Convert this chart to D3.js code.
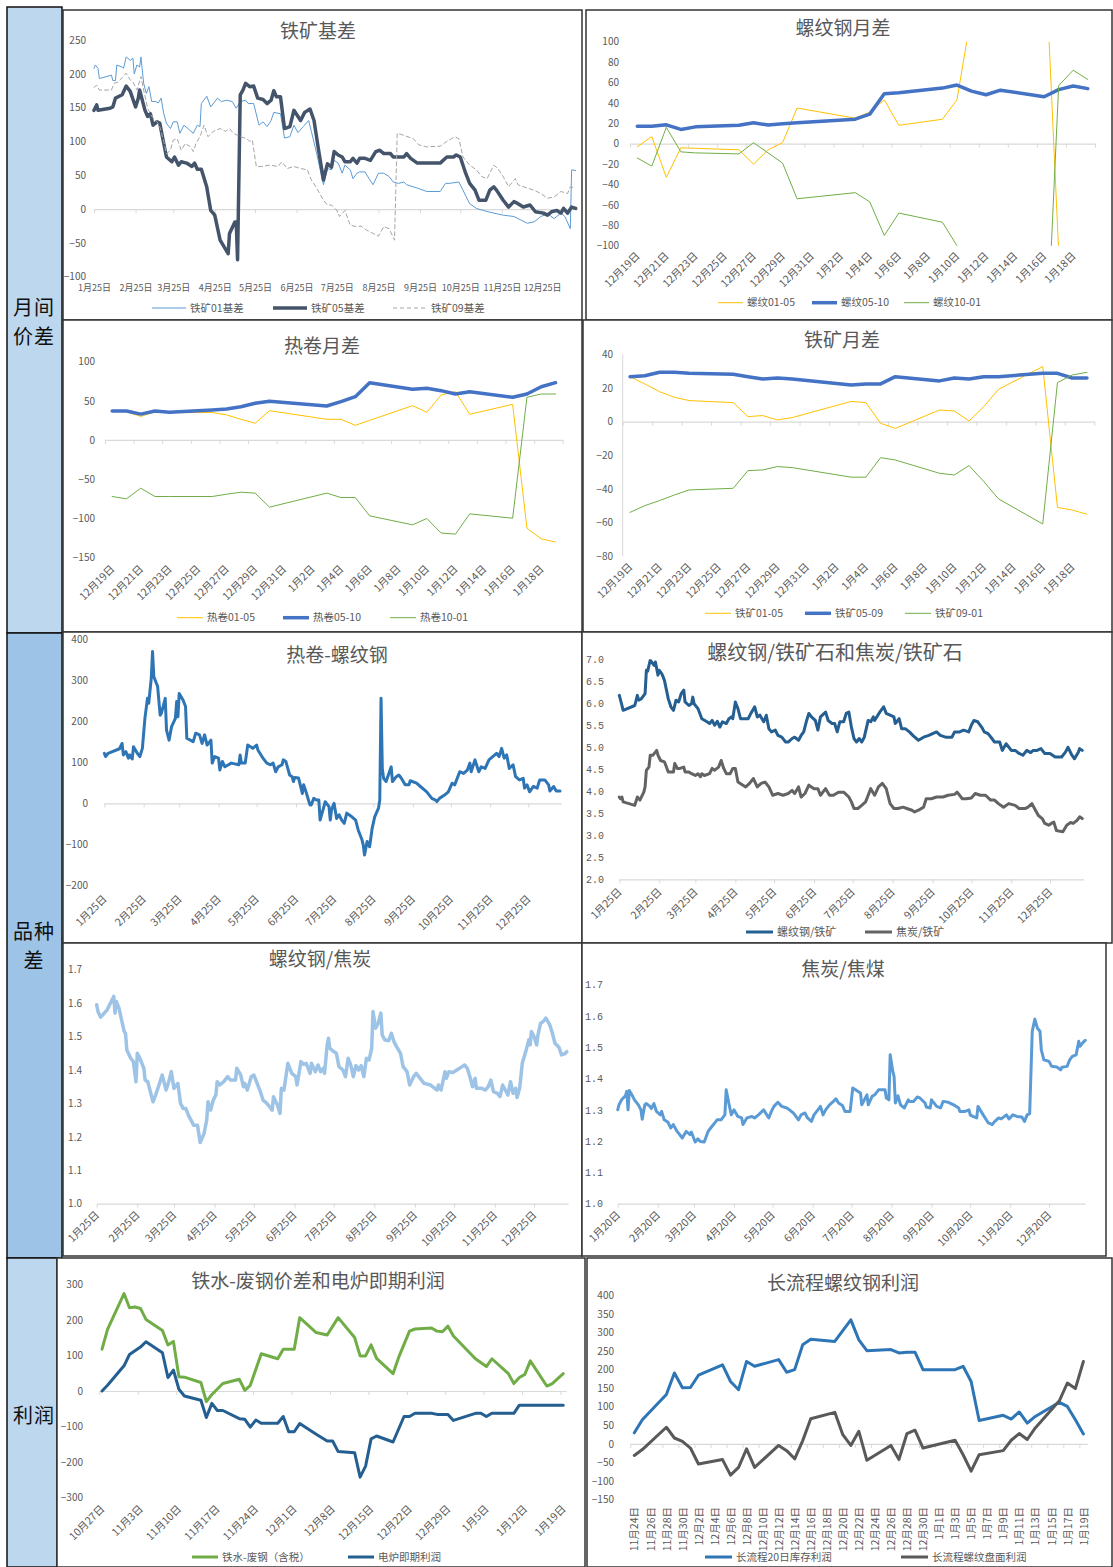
<!DOCTYPE html>
<html>
<head>
<meta charset="utf-8">
<script src="https://cdn.jsdelivr.net/npm/d3@7"></script>
<style>
  body { margin: 0; background: #fff; }
  svg text { font-family: 'Noto Sans CJK SC', 'Noto Sans', sans-serif; }
</style>
</head>
<body>
<div id="chart"></div>
<script>
// ---------- data ----------
// iron ore basis, [days since 2022-01-25, value]
const basisStart = '2022-01-25';
const ore01Basis = [[0,208],[1,213],[3,208],[4,193],[13,198],[14,190],[16,190],[17,213],[21,210],[22,208],[24,225],[27,220],[29,223],[30,200],[32,213],[34,210],[35,225],[37,186],[39,171],[41,181],[43,159],[46,159],[48,157],[50,164],[52,141],[54,127],[57,119],[59,129],[62,129],[64,112],[67,124],[70,119],[74,112],[77,124],[79,122],[80,156],[84,167],[87,151],[92,164],[95,159],[99,161],[103,159],[106,149],[109,159],[113,161],[115,156],[119,156],[123,124],[126,129],[129,122],[132,131],[134,143],[139,141],[142,105],[146,107],[149,124],[152,113],[156,122],[160,131],[162,115],[166,82],[171,36],[174,60],[177,58],[179,72],[182,68],[185,53],[187,65],[191,58],[193,45],[196,53],[198,55],[202,55],[205,45],[208,36],[212,53],[216,53],[220,48],[223,40],[227,38],[231,40],[233,36],[241,31],[248,26],[258,26],[262,38],[265,38],[272,40],[275,28],[280,8],[285,1],[290,-2],[298,-6],[305,-9],[313,-11],[318,-16],[323,-21],[328,-19],[333,-11],[338,-7],[343,-14],[348,-6],[351,-11],[355,-29],[356,58],[359,57]];
const ore05Basis = [[0,146],[2,154],[3,146],[12,149],[14,151],[16,164],[21,169],[24,182],[27,174],[31,151],[33,164],[34,176],[38,146],[40,137],[42,141],[44,124],[47,129],[49,127],[52,97],[54,77],[58,70],[60,77],[63,65],[65,70],[69,68],[73,63],[75,68],[77,59],[80,59],[84,33],[87,-2],[90,-9],[94,-46],[100,-66],[101,-36],[105,-19],[106,-19],[107,-75],[109,169],[111,176],[113,186],[116,181],[119,182],[122,164],[126,162],[129,156],[132,161],[134,175],[136,166],[139,166],[142,119],[146,122],[149,146],[154,131],[157,143],[161,148],[164,131],[167,92],[171,43],[174,67],[177,62],[179,85],[182,80],[185,77],[187,70],[191,70],[193,75],[196,68],[198,75],[202,75],[206,72],[210,85],[213,87],[216,82],[221,82],[223,77],[231,77],[233,82],[236,75],[241,68],[248,68],[258,68],[263,77],[268,77],[270,80],[273,77],[277,53],[280,38],[284,28],[287,13],[292,13],[295,28],[298,33],[300,28],[305,13],[309,3],[313,11],[316,8],[320,3],[325,6],[329,-4],[335,-6],[338,-9],[341,-4],[345,-2],[348,-6],[350,1],[353,-6],[356,3],[359,1]];
const ore09Basis = [[0,180],[2,183],[4,176],[13,176],[15,186],[18,188],[24,201],[27,191],[29,188],[32,176],[35,196],[37,176],[40,149],[43,137],[47,129],[49,122],[52,100],[54,82],[57,87],[59,102],[62,104],[65,87],[68,97],[72,92],[74,85],[76,97],[79,107],[82,124],[85,107],[89,115],[94,119],[98,115],[101,119],[104,112],[109,107],[114,104],[116,100],[118,102],[121,63],[125,63],[131,65],[137,63],[140,70],[144,60],[149,63],[154,60],[159,58],[162,43],[166,31],[171,13],[174,6],[177,6],[181,-2],[183,-11],[187,-2],[191,-24],[196,-26],[199,-25],[203,-31],[208,-36],[212,-40],[216,-26],[220,-29],[224,-46],[226,112],[231,109],[238,104],[242,95],[248,92],[258,93],[263,100],[269,107],[272,104],[275,77],[280,65],[285,58],[289,48],[293,45],[298,65],[301,60],[305,48],[309,33],[314,45],[316,36],[323,31],[328,28],[333,23],[338,16],[343,18],[348,26],[353,23],[355,33],[359,31]];

// calendar spreads, one value per trading day
const spreadDates = ['2022-12-19','2022-12-20','2022-12-21','2022-12-22','2022-12-23','2022-12-26','2022-12-27','2022-12-28','2022-12-29','2022-12-30','2023-01-03','2023-01-04','2023-01-05','2023-01-06','2023-01-09','2023-01-10','2023-01-11','2023-01-12','2023-01-13','2023-01-16','2023-01-17','2023-01-18','2023-01-19'];
const rebar0105 = [-3,7,-33,-4,-4.5,-6,-20,-6,1,35,25,31,43,18,24,43,128,152,177,208,-106,-128,-117];
const rebar0510 = [17,17,18.5,14,16.5,18,20.5,18.3,19.5,20.5,24,29,49,50,54.5,57.5,51.5,48,52.5,46,53,56.5,54];
const rebar1001 = [-14,-22,16,-8,-9,-10,1,-9,-19,-54,-48,-57,-90,-68,-77,-100,-180,-200,-230,-254,57,72,63];
const hrc0105 = [37.4,36,30,36,35,35,32,26.4,21.3,37.4,26.4,26.4,18.7,25,43.8,35.3,57.4,61.7,32.8,45.5,-112.8,-126.4,-130.6];
const hrc0510 = [37,37,33,37,35.3,38.3,39.6,42.5,46.8,49.4,43.4,49,55.3,73.2,64.7,66,63,58.7,61.7,54.5,58.7,68,73.2];
const hrc1001 = [-72.3,-75.3,-61.7,-72.3,-72.3,-72.3,-69.4,-66.8,-68,-85.9,-68,-73.6,-73.6,-97,-108.5,-100.4,-119,-120.4,-94.5,-100,54.5,58.7,58.7];
const ore0105 = [26.7,22.4,17.8,14.5,12.5,11.3,3,3.6,1,2.4,12,11.3,-1,-4,6.9,6.3,0.4,8.9,19.2,32.7,-51,-52.5,-55];
const ore0509 = [26.7,27.3,29.3,29.3,28.7,28.1,26.7,25.3,25.9,25.3,21.8,22.4,22.4,26.7,24.2,25.9,25.3,26.7,26.7,28.7,28.7,25.9,25.9];
const ore0901 = [-53.9,-49.9,-46.9,-43.6,-40.6,-39.6,-29.1,-28.7,-26.7,-27.3,-33,-33,-21.4,-22.8,-30.7,-31.7,-26.1,-35.6,-45.9,-60.8,23.2,27.7,29.3];

// HRC minus rebar, [days since 2022-01-25, value]
const hrcRebar = [[0,122],[1,114],[3,122],[12,133],[14,146],[15,118],[17,126],[19,110],[20,118],[22,108],[23,138],[26,122],[28,114],[30,134],[32,207],[34,256],[35,244],[37,305],[38,370],[39,309],[42,285],[44,215],[45,220],[48,256],[49,179],[51,154],[53,187],[56,207],[57,248],[58,211],[59,268],[62,252],[64,236],[65,159],[70,150],[72,171],[75,167],[77,146],[79,167],[81,142],[84,154],[85,98],[87,114],[90,110],[91,81],[93,102],[95,89],[100,98],[106,94],[107,118],[108,98],[111,98],[113,142],[117,134],[120,142],[121,130],[125,110],[128,98],[131,94],[133,98],[135,77],[137,89],[140,94],[141,106],[143,102],[146,69],[148,65],[149,53],[150,63],[153,62],[156,24],[157,45],[159,27],[162,-4],[163,-4],[165,12],[167,8],[169,8],[170,-41],[173,-8],[174,4],[177,-8],[178,-41],[179,-16],[181,0],[183,-37],[185,-28],[187,-41],[189,-49],[191,-24],[195,-33],[198,-41],[200,-65],[203,-89],[204,-102],[205,-126],[207,-93],[209,-106],[211,-61],[213,-33],[216,-12],[217,8],[218,256],[219,85],[220,61],[222,53],[226,89],[227,53],[230,65],[232,69],[234,61],[237,45],[240,45],[241,55],[246,49],[249,41],[254,28],[258,12],[261,8],[262,4],[264,12],[268,20],[271,28],[274,49],[276,45],[280,77],[283,73],[286,81],[288,98],[289,77],[292,106],[295,77],[297,89],[300,85],[303,106],[306,114],[309,122],[311,114],[313,134],[315,110],[317,118],[319,85],[322,94],[324,65],[327,57],[330,61],[331,37],[333,45],[335,28],[338,41],[341,37],[343,57],[347,57],[350,45],[351,30],[354,41],[356,30],[359,30]];

// ratios, [days since 2022-01-25, value]
const rebarOreRatio = [[0,6.18],[1,6.07],[3,5.84],[12,5.95],[14,6.18],[15,6.07],[17,6.1],[20,6.22],[21,6.75],[22,6.73],[23,6.86],[24,6.98],[26,6.9],[27,6.86],[28,6.94],[30,6.64],[31,6.75],[33,6.67],[35,6.52],[38,6.1],[40,5.92],[42,5.84],[44,6.07],[46,6.03],[48,6.22],[50,6.3],[51,6.03],[54,5.95],[56,5.99],[57,6.14],[58,5.99],[61,5.88],[64,5.65],[68,5.58],[70,5.54],[72,5.61],[74,5.5],[76,5.59],[78,5.46],[80,5.58],[83,5.54],[85,5.65],[87,5.69],[88,5.65],[90,6.03],[92,5.88],[94,5.65],[100,5.65],[102,5.77],[105,5.92],[107,5.69],[109,5.73],[112,5.58],[114,5.73],[116,5.42],[118,5.35],[121,5.39],[123,5.27],[126,5.23],[129,5.12],[131,5.12],[134,5.2],[136,5.23],[139,5.16],[141,5.27],[143,5.35],[145,5.58],[147,5.77],[149,5.69],[152,5.61],[154,5.39],[156,5.69],[160,5.8],[162,5.61],[165,5.54],[167,5.54],[169,5.35],[171,5.58],[174,5.58],[176,5.77],[178,5.8],[180,5.46],[182,5.2],[184,5.12],[186,5.2],[188,5.12],[190,5.23],[193,5.61],[195,5.58],[197,5.69],[198,5.61],[202,5.8],[205,5.92],[207,5.77],[210,5.73],[213,5.69],[214,5.54],[217,5.65],[219,5.42],[222,5.42],[225,5.35],[228,5.26],[232,5.16],[236,5.23],[240,5.27],[243,5.31],[246,5.35],[249,5.27],[253,5.23],[258,5.23],[260,5.35],[264,5.35],[267,5.39],[271,5.35],[273,5.5],[275,5.61],[278,5.58],[281,5.46],[283,5.35],[286,5.31],[289,5.2],[291,5.12],[295,5.12],[297,4.93],[300,5.08],[304,4.93],[307,4.93],[310,4.86],[313,4.82],[316,4.93],[319,4.88],[321,4.93],[324,4.93],[327,4.97],[330,4.86],[334,4.86],[338,4.78],[343,4.78],[346,4.89],[348,5.0],[351,4.82],[353,4.74],[356,4.89],[357,4.97],[359,4.93]];
const cokeOreRatio = [[0,3.87],[1,3.83],[2,3.87],[3,3.76],[12,3.68],[14,3.87],[16,3.8],[19,3.98],[20,4.1],[21,4.48],[23,4.55],[24,4.82],[26,4.82],[28,4.89],[29,4.93],[30,4.82],[32,4.7],[35,4.67],[38,4.44],[42,4.44],[43,4.63],[45,4.52],[47,4.52],[50,4.55],[51,4.44],[54,4.44],[56,4.4],[59,4.36],[61,4.4],[63,4.33],[64,4.4],[66,4.36],[70,4.4],[72,4.52],[74,4.48],[77,4.55],[79,4.7],[81,4.52],[83,4.4],[86,4.4],[88,4.52],[90,4.52],[92,4.21],[98,4.1],[101,4.18],[104,4.29],[107,4.1],[110,4.18],[113,4.21],[116,4.1],[119,3.91],[123,3.95],[127,3.91],[131,3.95],[134,4.02],[136,3.95],[139,4.1],[141,3.87],[144,3.95],[147,4.14],[151,4.06],[154,4.06],[156,3.91],[160,4.06],[163,3.91],[166,3.91],[170,3.98],[174,3.98],[178,3.87],[180,3.76],[182,3.61],[185,3.61],[188,3.68],[191,3.76],[193,3.91],[195,4.06],[198,3.91],[201,4.1],[204,4.18],[207,4.06],[210,3.72],[213,3.61],[216,3.61],[220,3.64],[223,3.61],[227,3.57],[229,3.53],[232,3.57],[236,3.64],[238,3.83],[242,3.83],[246,3.87],[251,3.87],[255,3.91],[260,3.93],[262,3.98],[266,3.83],[269,3.83],[273,3.85],[276,3.95],[280,3.91],[284,3.91],[288,3.8],[291,3.8],[294,3.72],[298,3.64],[302,3.72],[307,3.68],[310,3.61],[315,3.61],[317,3.64],[320,3.72],[322,3.61],[325,3.45],[328,3.38],[330,3.27],[333,3.23],[335,3.27],[337,3.3],[339,3.11],[342,3.09],[344,3.08],[347,3.23],[350,3.29],[352,3.27],[355,3.34],[357,3.42],[359,3.38]];
const rebarCokeRatio = [[0,1.595],[1,1.575],[3,1.558],[8,1.58],[13,1.62],[14,1.57],[15,1.605],[17,1.585],[19,1.55],[21,1.515],[22,1.51],[23,1.46],[26,1.435],[28,1.425],[29,1.395],[30,1.365],[31,1.45],[33,1.435],[36,1.405],[37,1.37],[39,1.365],[41,1.335],[43,1.305],[45,1.325],[48,1.36],[50,1.385],[51,1.37],[53,1.34],[55,1.365],[57,1.395],[59,1.345],[61,1.355],[62,1.36],[64,1.3],[66,1.285],[68,1.285],[70,1.265],[74,1.235],[77,1.235],[79,1.183],[82,1.21],[84,1.25],[85,1.305],[87,1.28],[89,1.31],[91,1.325],[92,1.365],[94,1.355],[97,1.365],[100,1.38],[102,1.37],[106,1.37],[107,1.405],[110,1.385],[112,1.35],[113,1.36],[115,1.34],[118,1.38],[120,1.385],[122,1.365],[125,1.335],[127,1.31],[130,1.3],[132,1.29],[134,1.28],[135,1.32],[138,1.295],[140,1.27],[141,1.345],[143,1.34],[146,1.42],[149,1.39],[152,1.38],[153,1.355],[156,1.425],[158,1.417],[160,1.42],[163,1.39],[164,1.42],[167,1.395],[169,1.415],[171,1.395],[173,1.405],[174,1.39],[176,1.475],[177,1.495],[178,1.465],[181,1.455],[183,1.45],[185,1.41],[188,1.4],[190,1.38],[192,1.435],[194,1.415],[196,1.38],[198,1.413],[200,1.4],[202,1.413],[204,1.38],[206,1.435],[208,1.43],[210,1.465],[211,1.575],[213,1.525],[215,1.54],[217,1.57],[218,1.505],[220,1.49],[223,1.488],[225,1.51],[227,1.485],[229,1.47],[232,1.45],[234,1.41],[237,1.395],[239,1.355],[242,1.38],[244,1.39],[247,1.375],[250,1.36],[255,1.355],[260,1.34],[261,1.355],[263,1.34],[266,1.395],[267,1.375],[269,1.395],[272,1.392],[275,1.4],[279,1.41],[281,1.415],[283,1.405],[285,1.38],[287,1.35],[289,1.375],[290,1.345],[294,1.345],[297,1.34],[299,1.35],[301,1.37],[303,1.335],[306,1.33],[308,1.32],[310,1.355],[312,1.34],[314,1.325],[316,1.365],[318,1.33],[320,1.345],[321,1.318],[323,1.345],[325,1.42],[328,1.46],[330,1.49],[331,1.475],[332,1.515],[334,1.5],[336,1.475],[337,1.505],[339,1.54],[341,1.545],[343,1.555],[346,1.535],[348,1.51],[350,1.48],[353,1.468],[355,1.445],[358,1.45],[359,1.455]];
// coke / coking coal, [days since 2022-01-20, value]
const cokeStart = '2022-01-20';
const cokeCoalRatio = [[0,1.3],[1,1.316],[3,1.332],[6,1.345],[7,1.359],[8,1.3],[9,1.362],[11,1.348],[13,1.332],[16,1.316],[18,1.3],[19,1.27],[21,1.316],[22,1.32],[25,1.311],[26,1.304],[28,1.32],[30,1.295],[33,1.284],[34,1.295],[36,1.268],[39,1.26],[41,1.242],[43,1.253],[46,1.231],[50,1.21],[53,1.231],[56,1.221],[57,1.229],[60,1.197],[62,1.207],[64,1.199],[67,1.197],[70,1.231],[72,1.242],[77,1.268],[80,1.268],[83,1.284],[84,1.364],[86,1.322],[88,1.284],[90,1.3],[93,1.279],[96,1.274],[97,1.253],[100,1.274],[104,1.279],[106,1.274],[109,1.284],[113,1.3],[117,1.274],[119,1.295],[121,1.311],[124,1.324],[127,1.311],[131,1.306],[133,1.3],[136,1.29],[138,1.279],[140,1.268],[142,1.284],[145,1.29],[147,1.274],[150,1.263],[152,1.284],[155,1.3],[157,1.311],[159,1.284],[161,1.3],[164,1.316],[167,1.327],[169,1.335],[171,1.322],[174,1.314],[176,1.295],[180,1.295],[182,1.37],[185,1.362],[188,1.354],[189,1.316],[191,1.332],[193,1.348],[194,1.316],[197,1.343],[199,1.348],[202,1.364],[207,1.364],[208,1.338],[210,1.332],[211,1.476],[213,1.423],[214,1.407],[215,1.322],[217,1.345],[219,1.316],[222,1.306],[225,1.332],[226,1.327],[229,1.327],[232,1.341],[234,1.338],[238,1.322],[239,1.309],[242,1.306],[243,1.332],[247,1.311],[250,1.306],[252,1.327],[256,1.324],[261,1.314],[264,1.306],[265,1.295],[269,1.295],[272,1.3],[273,1.284],[275,1.279],[278,1.274],[279,1.311],[283,1.284],[287,1.258],[290,1.253],[292,1.263],[295,1.274],[297,1.271],[301,1.284],[303,1.271],[306,1.284],[309,1.279],[313,1.277],[315,1.263],[317,1.284],[319,1.288],[321,1.551],[323,1.59],[325,1.561],[327,1.551],[328,1.492],[330,1.46],[334,1.455],[336,1.439],[340,1.437],[343,1.428],[344,1.436],[348,1.439],[350,1.46],[352,1.471],[355,1.476],[357,1.519],[358,1.503],[360,1.514],[362,1.522]];

// profits
const eafStart = '2022-10-27';   // [days since start, value]
const hotMetalScrap = [[0,118],[1,174],[4,275],[5,235],[6,237],[7,233],[8,202],[11,171],[12,130],[13,140],[14,40],[15,39],[18,24],[19,-30],[20,-10],[22,21],[25,33],[26,2],[27,16],[29,105],[32,91],[33,118],[35,118],[36,207],[39,165],[41,158],[43,207],[46,151],[47,99],[48,99],[49,130],[50,92],[53,49],[54,94],[56,169],[57,175],[60,178],[61,169],[62,167],[63,183],[64,155],[68,91],[70,69],[71,91],[74,49],[75,21],[76,38],[77,47],[78,85],[81,14],[82,21],[84,49]];
const eafProfit = [[0,0],[1,16],[4,71],[5,103],[7,124],[8,139],[11,108],[12,38],[13,59],[14,5],[15,-14],[18,-26],[19,-75],[20,-35],[21,-55],[22,-55],[25,-78],[26,-80],[27,-102],[28,-82],[29,-91],[32,-91],[33,-72],[34,-115],[35,-115],[36,-92],[39,-122],[41,-141],[42,-141],[43,-171],[46,-174],[47,-243],[48,-212],[49,-135],[50,-127],[53,-144],[55,-72],[56,-72],[57,-63],[60,-63],[61,-66],[63,-66],[64,-83],[68,-63],[69,-63],[70,-72],[71,-63],[75,-63],[76,-40],[84,-40]];
const bofStart = '2022-11-24';
const bofStockProfit = [[0,30],[1,65],[4,133],[5,191],[6,151],[7,152],[8,185],[11,213],[12,168],[13,146],[14,222],[15,209],[18,227],[19,193],[20,200],[21,267],[22,282],[25,276],[26,305],[27,334],[28,280],[29,251],[32,254],[33,245],[34,247],[35,247],[36,200],[40,200],[41,209],[42,168],[43,63],[46,77],[47,67],[48,86],[49,56],[50,74],[53,112],[54,101],[55,65],[56,27]];
const bofFuturesProfit = [[0,-31],[1,-15],[4,45],[5,16],[6,7],[7,-11],[8,-54],[11,-42],[12,-84],[13,-63],[14,-13],[15,-63],[18,-4],[19,-18],[20,-40],[21,9],[22,68],[25,85],[26,25],[27,-4],[28,34],[29,-44],[32,-4],[33,-42],[34,28],[35,37],[36,-11],[40,10],[41,-29],[42,-73],[43,-29],[46,-18],[47,10],[48,28],[49,12],[50,43],[53,116],[54,164],[55,149],[56,222]];

// ---------- helpers ----------
const W = 1113, H = 1567;
const DAY = 864e5;
const TEXT = '#595959', GRID = '#d9d9d9';
const MONO = "'Liberation Mono', monospace";
const parse = d3.timeParse('%Y-%m-%d');
const fmtMD = d3.timeFormat('%-m月%-d日');
const shift = (base, n) => new Date(parse(base).getTime() + n * DAY);
const byDay = (base, pairs) => pairs.map(([d, v]) => [shift(base, d), v]);
const byDate = (dates, vals) => vals.map((v, i) => [parse(dates[i]), v]);
const slotDomain = (first, last) => [shift(first, -0.5), shift(last, 0.5)];

const svg = d3.select('#chart').append('svg')
    .attr('width', W).attr('height', H).style('display', 'block');
svg.append('rect').attr('width', W).attr('height', H).attr('fill', '#fff');

// left category column
const sections = [
    {lines: ['月间', '价差'], y0: 7, y1: 633, x1: 62, fill: '#bdd7ee', cy: 322},
    {lines: ['品种', '差'], y0: 633, y1: 1258, x1: 62, fill: '#9dc3e6', cy: 946},
    {lines: ['利润'], y0: 1258, y1: 1567, x1: 57, fill: '#bdd7ee', cy: 1416}
];
sections.forEach(s => {
    svg.append('rect').attr('x', 7).attr('y', s.y0).attr('width', s.x1 - 7).attr('height', s.y1 - s.y0)
        .attr('fill', s.fill).attr('stroke', '#111').attr('stroke-width', 1.5);
    s.lines.forEach((t, i) => {
        svg.append('text').attr('x', 34).attr('y', s.cy + (i - (s.lines.length - 1) / 2) * 29)
            .attr('dy', '0.35em').attr('text-anchor', 'middle')
            .style('font-size', '20px').style('letter-spacing', '1px').attr('fill', '#111').text(t);
    });
});

let clipCount = 0;

function panel(cfg) {
    const [fx0, fy0, fx1, fy1] = cfg.frame;
    svg.append('rect').attr('x', fx0).attr('y', fy0).attr('width', fx1 - fx0).attr('height', fy1 - fy0)
        .attr('fill', '#fff').attr('stroke', '#333').attr('stroke-width', 1.5);

    const x = cfg.x, y = cfg.y;

    // title
    svg.append('text').attr('x', cfg.title[1]).attr('y', cfg.title[2]).attr('dy', '0.35em')
        .attr('text-anchor', 'middle').attr('fill', TEXT)
        .style('font-size', (cfg.title[3] || 19) + 'px').text(cfg.title[0]);

    // y axis labels
    const ya = svg.append('g').attr('transform', `translate(${cfg.yRight},0)`)
        .call(d3.axisLeft(y).tickValues(cfg.yTicks).tickSize(0).tickPadding(0).tickFormat(cfg.yFmt));
    ya.select('.domain').remove();
    ya.selectAll('text').attr('fill', TEXT).style('font-size', '10px')
        .style('font-family', cfg.yFamily || null);

    if (cfg.vline) {
        svg.append('line').attr('x1', x.range()[0]).attr('x2', x.range()[0])
            .attr('y1', y.range()[1]).attr('y2', y.range()[0]).attr('stroke', GRID);
    }

    // axis line with tick marks
    const xa = svg.append('g').attr('transform', `translate(0,${y(cfg.base)})`)
        .call(d3.axisBottom(x).tickValues(cfg.marks).tickSize(4).tickSizeOuter(0).tickFormat(''));
    xa.select('.domain').attr('stroke', GRID).attr('stroke-width', 1.2);
    xa.selectAll('.tick line').attr('stroke', GRID);

    // category labels
    const xl = svg.append('g').attr('transform', `translate(0,${cfg.labelY})`)
        .call(d3.axisBottom(x).tickValues(cfg.labels).tickSize(0).tickPadding(0).tickFormat(fmtMD));
    xl.select('.domain').remove();
    const lt = xl.selectAll('text').attr('fill', TEXT).style('font-size', (cfg.labelSize || 10.5) + 'px');
    if (cfg.rotate) {
        lt.attr('y', 0).attr('dy', '0.35em').attr('text-anchor', 'end')
            .attr('transform', `rotate(${cfg.rotate})`);
    }

    // lines
    const id = 'clip' + (clipCount++);
    svg.append('clipPath').attr('id', id).append('rect')
        .attr('x', x.range()[0] - 5).attr('y', y.range()[1])
        .attr('width', x.range()[1] - x.range()[0] + 10).attr('height', y.range()[0] - y.range()[1]);
    const g = svg.append('g').attr('clip-path', `url(#${id})`);
    const line = d3.line().x(d => x(d[0])).y(d => y(d[1]));
    cfg.series.forEach(s => {
        g.append('path').datum(s.data).attr('fill', 'none')
            .attr('stroke', s.color).attr('stroke-width', s.width)
            .attr('stroke-dasharray', s.dash || null)
            .attr('stroke-linejoin', 'round').attr('stroke-linecap', 'round')
            .attr('d', line);
    });

    // legend
    if (cfg.legend) {
        cfg.legend.items.forEach((it, i) => {
            const s = cfg.series[i];
            const len = cfg.legend.len || 26;
            svg.append('line').attr('x1', it).attr('x2', it + len)
                .attr('y1', cfg.legend.y).attr('y2', cfg.legend.y)
                .attr('stroke', s.color).attr('stroke-width', s.width)
                .attr('stroke-dasharray', s.dash || null);
            svg.append('text').attr('x', it + len + 4).attr('y', cfg.legend.y).attr('dy', '0.35em')
                .attr('fill', TEXT).style('font-size', (cfg.legend.size || 10.5) + 'px').text(s.name);
        });
    }
}

const monthTicks = day => d3.range(12).map(m => new Date(2022, m, day));
const everyN = (first, count, step) => d3.range(0, count, step).map(k => shift(first, k));

// ---------- panels ----------
// 铁矿基差
panel({
    frame: [63, 10, 582, 320],
    title: ['铁矿基差', 318, 31],
    x: d3.scaleTime().domain([shift(basisStart, 0), shift(basisStart, 360)]).range([94, 577]),
    y: d3.scaleLinear().domain([-100, 250]).range([276.7, 40]),
    yTicks: d3.range(-100, 251, 50), yFmt: d3.format('d'), yRight: 86,
    base: 0, marks: monthTicks(25), labels: monthTicks(25), labelY: 285, labelSize: 9,
    series: [
        {name: '铁矿01基差', data: byDay(basisStart, ore01Basis), color: '#5b9bd5', width: 1},
        {name: '铁矿05基差', data: byDay(basisStart, ore05Basis), color: '#44546a', width: 3.5},
        {name: '铁矿09基差', data: byDay(basisStart, ore09Basis), color: '#a5a5a5', width: 1, dash: '4 3'}
    ],
    legend: {y: 308, items: [152, 273, 393], len: 34}
});

const spreadX = range => d3.scaleTime()
    .domain(slotDomain(spreadDates[0], spreadDates[spreadDates.length - 1])).range(range);
const spreadMarks = everyN('2022-12-18', 33, 2).map(d => new Date(d.getTime() + DAY / 2));
const spreadLabels = everyN('2022-12-19', 32, 2);
const spreadColors = ['#ffc000', '#4472c4', '#70ad47'];

// 螺纹钢月差
panel({
    frame: [586, 10, 1112, 320],
    title: ['螺纹钢月差', 843, 28],
    x: spreadX([630, 1095]),
    y: d3.scaleLinear().domain([-100, 100]).range([245.7, 41.7]),
    yTicks: d3.range(-100, 101, 20), yFmt: d3.format('d'), yRight: 619,
    base: 0, marks: spreadMarks, labels: spreadLabels, labelY: 254, rotate: -45,
    series: [
        {name: '螺纹01-05', data: byDate(spreadDates, rebar0105), color: spreadColors[0], width: 1},
        {name: '螺纹05-10', data: byDate(spreadDates, rebar0510), color: spreadColors[1], width: 3.5},
        {name: '螺纹10-01', data: byDate(spreadDates, rebar1001), color: spreadColors[2], width: 1}
    ],
    legend: {y: 302.7, items: [718, 812, 904], len: 25}
});

// 热卷月差
panel({
    frame: [63, 320, 582, 632],
    title: ['热卷月差', 322, 346.7],
    x: spreadX([105, 562.7]),
    y: d3.scaleLinear().domain([-150, 100]).range([557.3, 361.7]),
    yTicks: d3.range(-150, 101, 50), yFmt: d3.format('d'), yRight: 95,
    base: 0, marks: spreadMarks, labels: spreadLabels, labelY: 567, rotate: -45,
    series: [
        {name: '热卷01-05', data: byDate(spreadDates, hrc0105), color: spreadColors[0], width: 1},
        {name: '热卷05-10', data: byDate(spreadDates, hrc0510), color: spreadColors[1], width: 3.5},
        {name: '热卷10-01', data: byDate(spreadDates, hrc1001), color: spreadColors[2], width: 1}
    ],
    legend: {y: 617.7, items: [177, 283, 390], len: 26}
});

// 铁矿月差
panel({
    frame: [583, 320, 1112, 632],
    title: ['铁矿月差', 842, 340.7],
    x: spreadX([622.7, 1094.3]),
    y: d3.scaleLinear().domain([-80, 40]).range([556.3, 354.3]),
    yTicks: d3.range(-80, 41, 20), yFmt: d3.format('d'), yRight: 613, vline: true,
    base: 0, marks: spreadMarks, labels: spreadLabels, labelY: 565, rotate: -45,
    series: [
        {name: '铁矿01-05', data: byDate(spreadDates, ore0105), color: spreadColors[0], width: 1},
        {name: '铁矿05-09', data: byDate(spreadDates, ore0509), color: spreadColors[1], width: 3.5},
        {name: '铁矿09-01', data: byDate(spreadDates, ore0901), color: spreadColors[2], width: 1}
    ],
    legend: {y: 613.3, items: [705, 805, 905], len: 26}
});

// 热卷-螺纹钢
panel({
    frame: [63, 632, 582, 943],
    title: ['热卷-螺纹钢', 337, 655],
    x: d3.scaleTime().domain([shift(basisStart, 0), shift(basisStart, 360)]).range([104.3, 561.3]),
    y: d3.scaleLinear().domain([-200, 400]).range([885.3, 639.3]),
    yTicks: d3.range(-200, 401, 100), yFmt: d3.format('d'), yRight: 88,
    base: 0, marks: monthTicks(25), labels: monthTicks(25), labelY: 897, rotate: -45,
    series: [{name: '热卷-螺纹钢', data: byDay(basisStart, hrcRebar), color: '#2e75b6', width: 3}]
});

// 螺纹钢/铁矿石和焦炭/铁矿石
panel({
    frame: [582, 632, 1112, 943],
    title: ['螺纹钢/铁矿石和焦炭/铁矿石', 835, 652.7, 20],
    x: d3.scaleTime().domain([shift(basisStart, 0), shift(basisStart, 360)]).range([619.3, 1083.5]),
    y: d3.scaleLinear().domain([2, 7]).range([879.3, 659.3]),
    yTicks: d3.range(2, 7.01, 0.5), yFmt: d3.format('.1f'), yRight: 604, yFamily: MONO,
    base: 2, marks: monthTicks(25), labels: monthTicks(25), labelY: 890, rotate: -45,
    series: [
        {name: '螺纹钢/铁矿', data: byDay(basisStart, rebarOreRatio), color: '#255e91', width: 3},
        {name: '焦炭/铁矿', data: byDay(basisStart, cokeOreRatio), color: '#636363', width: 3}
    ],
    legend: {y: 932, items: [746, 865], len: 27, size: 11}
});

// 螺纹钢/焦炭
panel({
    frame: [63, 943, 582, 1256],
    title: ['螺纹钢/焦炭', 320, 959.7],
    x: d3.scaleTime().domain([shift(basisStart, 0), shift(basisStart, 360)]).range([96.7, 568.1]),
    y: d3.scaleLinear().domain([1, 1.7]).range([1203.7, 969.7]),
    yTicks: d3.range(1, 1.71, 0.1), yFmt: d3.format('.1f'), yRight: 82,
    base: 1, marks: monthTicks(25), labels: monthTicks(25), labelY: 1213, rotate: -45,
    series: [{name: '螺纹钢/焦炭', data: byDay(basisStart, rebarCokeRatio), color: '#9dc3e6', width: 3.5}]
});

// 焦炭/焦煤
panel({
    frame: [582, 943, 1106, 1256],
    title: ['焦炭/焦煤', 843, 969],
    x: d3.scaleTime().domain([shift(cokeStart, 0), shift(cokeStart, 362)]).range([617.7, 1085.2]),
    y: d3.scaleLinear().domain([1, 1.7]).range([1203.7, 984.7]),
    yTicks: d3.range(1, 1.71, 0.1), yFmt: d3.format('.1f'), yRight: 603, yFamily: MONO,
    base: 1, marks: monthTicks(20), labels: monthTicks(20), labelY: 1213, rotate: -45,
    series: [{name: '焦炭/焦煤', data: byDay(cokeStart, cokeCoalRatio), color: '#5b9bd5', width: 3}]
});

// 铁水-废钢价差和电炉即期利润
panel({
    frame: [57, 1258, 585, 1567],
    title: ['铁水-废钢价差和电炉即期利润', 318, 1281.3],
    x: d3.scaleTime().domain(slotDomain(eafStart, '2023-01-19')).range([99.3, 566]),
    y: d3.scaleLinear().domain([-300, 300]).range([1497.3, 1284.7]),
    yTicks: d3.range(-300, 301, 100), yFmt: d3.format('d'), yRight: 83,
    base: 0,
    marks: everyN(eafStart, 85, 7).map(d => new Date(d.getTime() - DAY / 2)),
    labels: everyN(eafStart, 85, 7), labelY: 1507, rotate: -45,
    series: [
        {name: '铁水-废钢（含税）', data: byDay(eafStart, hotMetalScrap), color: '#70ad47', width: 3},
        {name: '电炉即期利润', data: byDay(eafStart, eafProfit), color: '#255e91', width: 3}
    ],
    legend: {y: 1557, items: [192, 348], len: 26}
});

// 长流程螺纹钢利润
panel({
    frame: [587, 1258, 1112, 1567],
    title: ['长流程螺纹钢利润', 843, 1283],
    x: d3.scaleTime().domain(slotDomain(bofStart, '2023-01-19')).range([630.3, 1087.4]),
    y: d3.scaleLinear().domain([-150, 400]).range([1499.7, 1295.3]),
    yTicks: d3.range(-150, 401, 50), yFmt: d3.format('d'), yRight: 614,
    base: 0,
    marks: everyN(bofStart, 58, 2).map(d => new Date(d.getTime() - DAY / 2)),
    labels: everyN(bofStart, 57, 2), labelY: 1507, rotate: -90, labelSize: 10.5,
    series: [
        {name: '长流程20日库存利润', data: byDay(bofStart, bofStockProfit), color: '#2e75b6', width: 3},
        {name: '长流程螺纹盘面利润', data: byDay(bofStart, bofFuturesProfit), color: '#595959', width: 3}
    ],
    legend: {y: 1557, items: [705, 901], len: 27}
});
</script>
</body>
</html>
